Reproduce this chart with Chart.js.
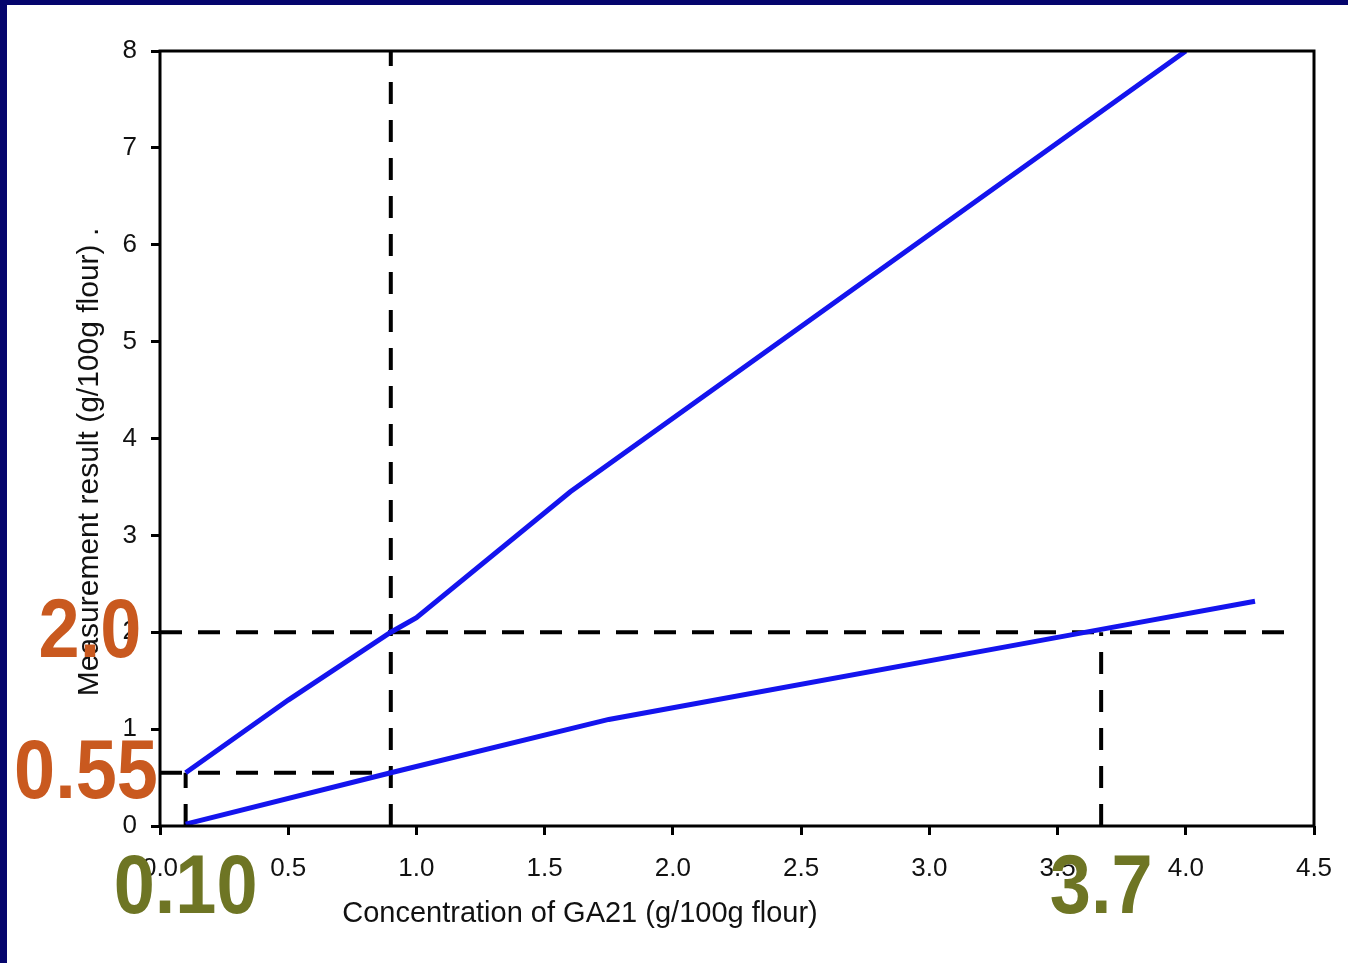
<!DOCTYPE html>
<html>
<head>
<meta charset="utf-8">
<script src="https://cdn.jsdelivr.net/npm/chart.js@4"></script>
<style>
    html, body { margin: 0; padding: 0; background: #fff; }
    canvas { display: block; }
</style>
</head>
<body>
<canvas id="calChart" width="1348" height="963"></canvas>
<script>
const upperX = [0.1, 0.5, 0.9, 1.0, 1.6, 4.0];
const upperY = [0.55, 1.3, 2.0, 2.15, 3.45, 8.0];
const lowerX = [0.1, 0.9, 1.75, 3.67, 4.27];
const lowerY = [0.02, 0.55, 1.1, 2.03, 2.32];

// Dashed reading guides
const guideX = [[0.9, 0.9], [0, 4.44], [0, 0.9], [0.1, 0.1], [3.67, 3.67]];
const guideY = [[0, 8], [2, 2], [0.55, 0.55], [0, 0.55], [0, 2]];

// Big annotation numbers
const yNotes = [{ text: '2.0', value: 2 }, { text: '0.55', value: 0.55 }];
const xNotes = [{ text: '0.10', value: 0.1 }, { text: '3.7', value: 3.67 }];

const xTitle = 'Concentration of GA21 (g/100g flour)';
const yTitle = 'Measurement result (g/100g flour) .';

function toPoints(xs, ys) {
    return xs.map((x, i) => ({ x: x, y: ys[i] }));
}

const datasets = [];
// blue lines first so they are painted on top
datasets.push({ data: toPoints(upperX, upperY), borderColor: '#1414ee', borderWidth: 5 });
datasets.push({ data: toPoints(lowerX, lowerY), borderColor: '#1414ee', borderWidth: 5 });
guideX.forEach((gx, i) => {
    datasets.push({
        data: toPoints(gx, guideY[i]),
        borderColor: '#000',
        borderWidth: 4,
        borderDash: [22, 16]
    });
});
datasets.forEach(d => {
    d.showLine = true;
    d.pointRadius = 0;
    d.fill = false;
    d.tension = 0;
});

// narrow bold text: no narrow font installed, so squeeze the normal one
function drawNarrow(ctx, text, x, y) {
    ctx.save();
    ctx.translate(x, y);
    ctx.scale(0.88, 1);
    ctx.fillText(text, 0, 0);
    ctx.restore();
}

// navy frame, plot box, titles and the big numbers
const decorPlugin = {
    id: 'decor',
    beforeDraw(chart) {
        const ctx = chart.ctx;
        ctx.save();
        ctx.fillStyle = '#fff';
        ctx.fillRect(0, 0, chart.width, chart.height);
        ctx.fillStyle = '#05056d';
        ctx.fillRect(0, 0, chart.width, 5);
        ctx.fillRect(0, 0, 7, chart.height);
        ctx.restore();
    },
    afterDraw(chart) {
        const ctx = chart.ctx;
        const a = chart.chartArea;
        const xs = chart.scales.x;
        const ys = chart.scales.y;
        ctx.save();
        ctx.strokeStyle = '#000';
        ctx.lineWidth = 3;
        ctx.strokeRect(a.left, a.top, a.right - a.left, a.bottom - a.top);

        ctx.fillStyle = '#111';
        ctx.textAlign = 'center';
        ctx.textBaseline = 'middle';
        ctx.font = '29px "Liberation Sans", Arial, sans-serif';
        ctx.fillText(xTitle, 580, 914);

        ctx.save();
        ctx.translate(90, 462);
        ctx.rotate(-Math.PI / 2);
        ctx.font = '30px "Liberation Sans", Arial, sans-serif';
        ctx.fillText(yTitle, 0, 0);
        ctx.restore();

        ctx.font = 'bold 84px "Liberation Sans", Arial, sans-serif';
        ctx.fillStyle = '#c9591f';
        yNotes.forEach((n, i) => {
            drawNarrow(ctx, n.text, a.left - (i === 0 ? 70 : 74), ys.getPixelForValue(n.value) + 2);
        });
        ctx.fillStyle = '#6e7524';
        xNotes.forEach(n => {
            drawNarrow(ctx, n.text, xs.getPixelForValue(n.value), a.bottom + 64);
        });
        ctx.restore();
    }
};

const tickFont = { family: '"Liberation Sans", Arial, sans-serif', size: 26 };

new Chart(document.getElementById('calChart').getContext('2d'), {
    type: 'scatter',
    data: { datasets: datasets },
    options: {
        responsive: false,
        animation: false,
        events: [],
        layout: { padding: { top: 51, right: 34, left: 0, bottom: 0 } },
        plugins: { legend: { display: false }, tooltip: { enabled: false } },
        scales: {
            x: {
                type: 'linear',
                min: 0,
                max: 4.5,
                afterFit: s => {
                    s.height = 137;
                    s.paddingLeft = 0;
                    s.paddingRight = 0;
                },
                border: { display: false },
                grid: { drawOnChartArea: false, drawTicks: true, tickLength: 9, color: '#000', lineWidth: 3 },
                ticks: {
                    stepSize: 0.5,
                    color: '#111',
                    font: tickFont,
                    padding: 18,
                    maxRotation: 0,
                    callback: v => v.toFixed(1)
                }
            },
            y: {
                type: 'linear',
                min: 0,
                max: 8,
                afterFit: s => {
                    s.width = 160;
                    s.paddingTop = 0;
                    s.paddingBottom = 0;
                },
                border: { display: false },
                grid: { drawOnChartArea: false, drawTicks: true, tickLength: 9, color: '#000', lineWidth: 3 },
                ticks: {
                    stepSize: 1,
                    color: '#111',
                    font: tickFont,
                    padding: 14
                }
            }
        }
    },
    plugins: [decorPlugin]
});
</script>
</body>
</html>
